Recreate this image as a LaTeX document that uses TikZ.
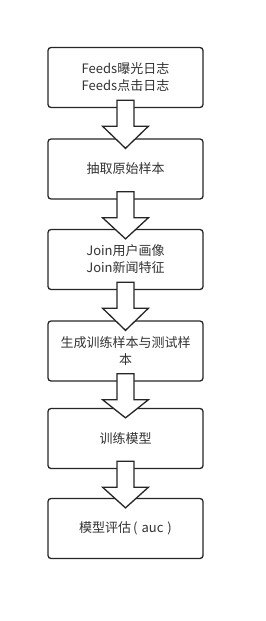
\documentclass[tikz,border=0pt]{standalone}
\usepackage{fontspec}
\setmainfont{Noto Sans CJK SC}
\usetikzlibrary{calc}
\tikzset{
  stepbox/.style={draw=black!85, line width=1.3pt, rounded corners=3pt, fill=white,
    minimum width=155pt, minimum height=60pt, align=center, inner sep=2pt,
    font=\fontsize{13}{17}\selectfont, text=black!80},
  fatarrow/.style={draw=black!85, line width=1.3pt, fill=white}
}
\begin{document}
\begin{tikzpicture}[x=1pt,y=1pt]
\useasboundingbox (0,0) rectangle (265,-621);
\node[stepbox] (logs) at (125.5,-77.5) {Feeds曝光日志\\Feeds点击日志};
\node[stepbox] (raw) at (125.5,-169) {抽取原始样本};
\node[stepbox] (join) at (125.5,-259.5) {Join用户画像\\Join新闻特征};
\node[stepbox] (samples) at (125.5,-351) {生成训练样本与测试样\\本};
\node[stepbox] (train) at (125.5,-438.5) {训练模型};
\node[stepbox] (eval) at (125.5,-528.5) {模型评估\hspace{2pt}(\hspace{4pt}auc\hspace{4pt})};
\foreach \a/\b in {logs/raw, raw/join, join/samples, samples/train, train/eval}{
  \draw[fatarrow] ($(\a.south)+(-8.5,8)$) -- ($(\a.south)+(8.5,8)$)
    -- ($(\a.south)+(8.5,-18)$) -- ($(\a.south)+(23,-18)$)
    -- ($(\b.north)+(0,-10)$)
    -- ($(\a.south)+(-23,-18)$) -- ($(\a.south)+(-8.5,-18)$) -- cycle;
}
\end{tikzpicture}
\end{document}
